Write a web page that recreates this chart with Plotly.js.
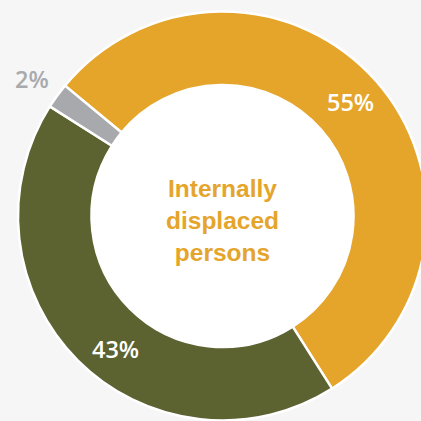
<!DOCTYPE html>
<html>
<head>
<meta charset="utf-8">
<script src="https://cdn.plot.ly/plotly-3.0.1.min.js"></script>
<style>
html,body{margin:0;padding:0;overflow:hidden;background:#f6f6f6;}
#chart{width:450px;height:450px;}
</style>
</head>
<body>
<div id="chart"></div>
<script>
// Data
const categories = ["Internally displaced persons", "Refugees", "Other"];
const shares = [55, 43, 2];
const sliceColors = ["#E5A52B", "#5C6230", "#A8A9AD"];
const labelColors = ["#ffffff", "#ffffff", "#A9AAAD"];
const centerLabel = "Internally<br>displaced<br>persons";

// Geometry (pixels within a 450x450 layout, page window crops to 421x421)
const W = 450, H = 450;
const cx = 222.5, cy = 216, R = 204.5, holeR = 131;
// label anchor pixels (layout only)
const labelPx = [[350, 102], [115.5, 349], [31.5, 79]];
const centerPx = [222.5, 220];

const domain = {
  x: [(cx - R) / W, (cx + R) / W],
  y: [1 - (cy + R) / H, 1 - (cy - R) / H]
};

const trace = {
  type: "pie",
  labels: categories,
  values: shares,
  sort: false,
  direction: "clockwise",
  rotation: -50.4,
  hole: holeR / R,
  domain: domain,
  marker: {colors: sliceColors, line: {color: "#ffffff", width: 2.5}},
  textinfo: "none",
  showlegend: false,
  hoverinfo: "label+percent"
};

const annotations = shares.map((v, i) => ({
  text: v + "%",
  xref: "paper", yref: "paper",
  x: labelPx[i][0] / W, y: 1 - labelPx[i][1] / H,
  xanchor: "center", yanchor: "middle",
  showarrow: false,
  font: {family: "Open Sans", size: 23.5, weight: 600, color: labelColors[i]}
}));
annotations.push({
  text: centerLabel,
  xref: "paper", yref: "paper",
  x: centerPx[0] / W, y: 1 - centerPx[1] / H,
  xanchor: "center", yanchor: "middle",
  showarrow: false, align: "center",
  font: {family: "Liberation Sans, Arial, sans-serif", size: 24.5, weight: 700, color: "#E5A52B"}
});

const layout = {
  width: W, height: H,
  margin: {l: 0, r: 0, t: 0, b: 0},
  paper_bgcolor: "#f6f6f6",
  showlegend: false,
  annotations: annotations,
  shapes: [{
    type: "circle", xref: "paper", yref: "paper", layer: "below",
    x0: (cx - holeR) / W, x1: (cx + holeR) / W,
    y0: 1 - (cy + holeR) / H, y1: 1 - (cy - holeR) / H,
    fillcolor: "#ffffff", line: {width: 0}
  }]
};

Plotly.newPlot("chart", [trace], layout, {displayModeBar: false, staticPlot: true});
</script>
</body>
</html>
